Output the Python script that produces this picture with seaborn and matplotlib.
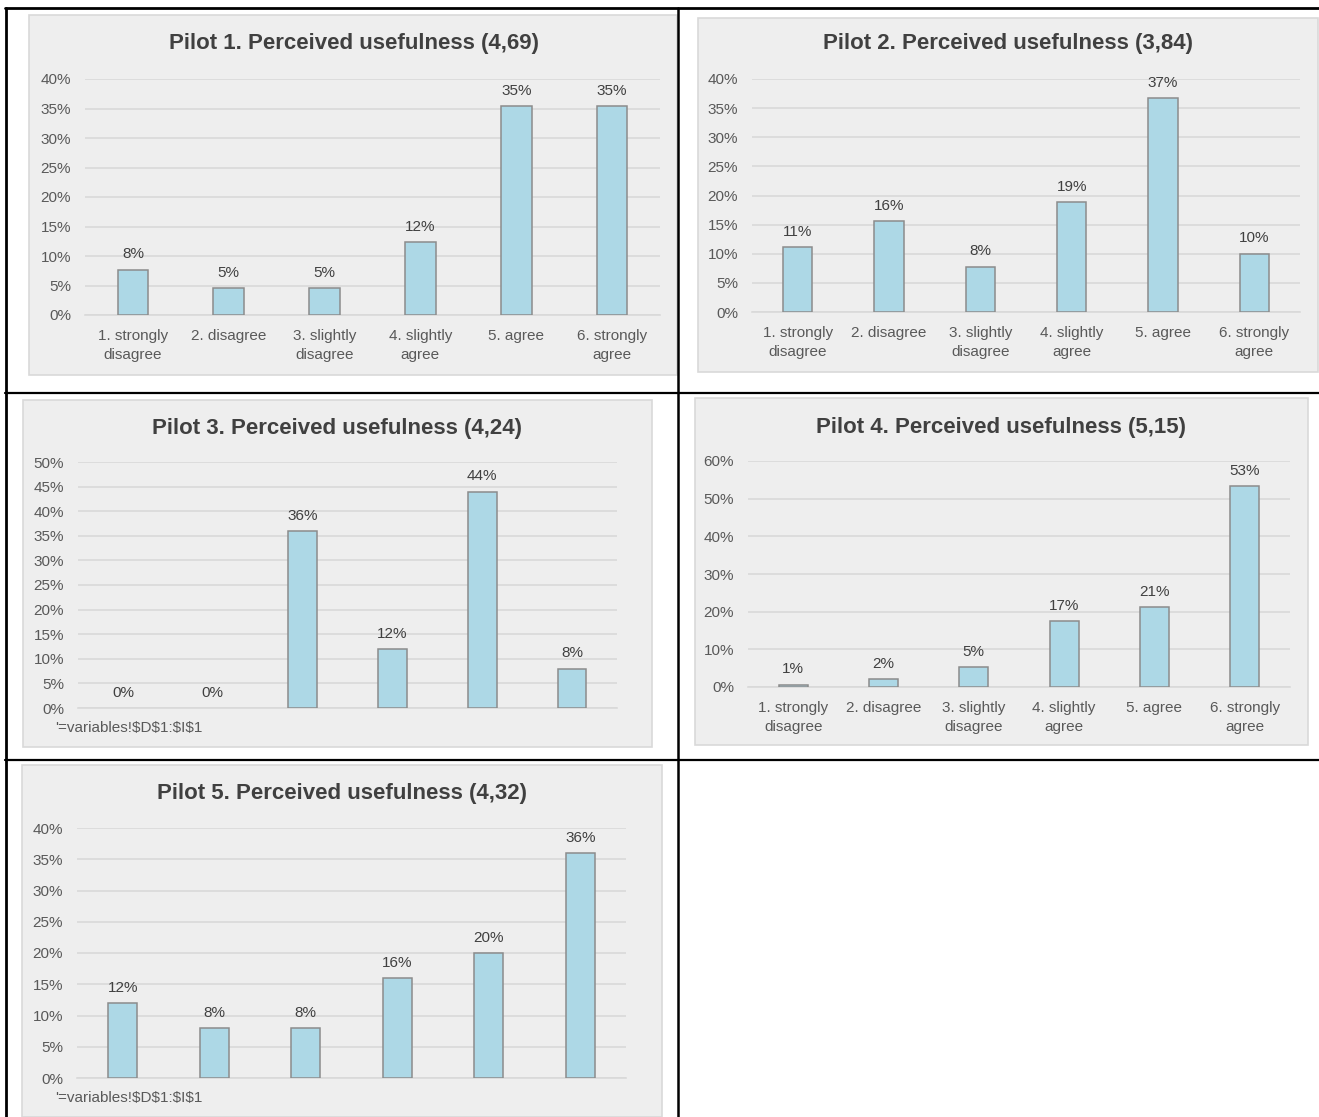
import matplotlib
matplotlib.use("Agg")
import matplotlib.pyplot as plt
from matplotlib.patches import Rectangle
from matplotlib.lines import Line2D
from matplotlib.ticker import FuncFormatter
import seaborn as sns
import pandas as pd

# Likert answer categories
categories = ["1. strongly\ndisagree", "2. disagree", "3. slightly\ndisagree",
              "4. slightly\nagree", "5. agree", "6. strongly\nagree"]

# Share of answers per category (%) for each pilot
pilot1 = [7.7, 4.6, 4.6, 12.3, 35.4, 35.4]
pilot2 = [11.1, 15.6, 7.8, 18.9, 36.7, 10.0]
pilot3 = [0.0, 0.0, 36.0, 12.0, 44.0, 8.0]
pilot4 = [0.6, 2.1, 5.3, 17.4, 21.2, 53.3]
pilot5 = [12.0, 8.0, 8.0, 16.0, 20.0, 36.0]

titles = ["Pilot 1. Perceived usefulness (4,69)",
          "Pilot 2. Perceived usefulness (3,84)",
          "Pilot 3. Perceived usefulness (4,24)",
          "Pilot 4. Perceived usefulness (5,15)",
          "Pilot 5. Perceived usefulness (4,32)"]

y_max = [40, 40, 50, 60, 40]
y_step = [5, 5, 5, 10, 5]
show_categories = [True, True, False, True, False]
footnote = r"'=variables!\$D\$1:\$I\$1"

sns.set_theme(style="white")
plt.rcParams["font.family"] = ["Liberation Sans Narrow", "Liberation Sans", "DejaVu Sans"]

W, H = 1319, 1117
fig = plt.figure(figsize=(W / 100, H / 100), dpi=100)
fig.patch.set_facecolor("white")


def fx(x):
    return x / W


def fy(y):
    return 1 - y / H


# table grid
def hline(y, x0, x1, lw=2.0):
    fig.add_artist(Line2D([fx(x0), fx(x1)], [fy(y), fy(y)], color="black", lw=lw))


def vline(x, y0, y1, lw=2.0):
    fig.add_artist(Line2D([fx(x), fx(x)], [fy(y0), fy(y1)], color="black", lw=lw))


hline(8, 5, 1319)
hline(393, 5, 1319, lw=1.6)
hline(760, 5, 1319, lw=1.6)
vline(6, 8, 1117)
vline(678, 8, 1117, lw=1.8)

# panel geometry in pixels: (box x0, y0, x1, y1), (axes left, right, top, bottom), title center
panels = [
    ((29, 15, 677, 375), (85, 660, 79, 315), (354, 43)),
    ((698, 18, 1318, 372), (752, 1300, 79, 312), (1008, 44)),
    ((23, 400, 652, 747), (78, 617, 462, 708), (337, 428)),
    ((695, 398, 1308, 745), (748, 1290, 461, 687), (1001, 427)),
    ((22, 765, 662, 1117), (77, 626, 828, 1078), (342, 793)),
]
data_sets = [pilot1, pilot2, pilot3, pilot4, pilot5]

tick_color = "#595959"
for k, ((bx0, by0, bx1, by1), (al, ar, at, ab), (tx, ty)) in enumerate(panels):
    fig.add_artist(Rectangle((fx(bx0), fy(by1)), fx(bx1 - bx0), (by1 - by0) / H,
                             facecolor="#eeeeee", edgecolor="#d9d9d9", lw=1.2, zorder=0))
    fig.text(fx(tx), fy(ty), titles[k], ha="center", va="center", fontsize=16,
             fontweight="bold", color="#404040")

    ax = fig.add_axes([fx(al), fy(ab), fx(ar - al), (ab - at) / H])
    ax.set_facecolor("none")
    df = pd.DataFrame({"category": categories, "share": data_sets[k]})
    sns.barplot(data=df, x="category", y="share", ax=ax, color="#add8e6",
                saturation=1, width=0.32, edgecolor="#8c8c8c", linewidth=1.1, zorder=3)
    for p in ax.patches:
        if p.get_height() == 0:
            p.set_linewidth(0)
    ax.set_xlim(-0.5, 5.5)
    ax.set_ylim(0, y_max[k])
    ax.set_yticks(range(0, y_max[k] + 1, y_step[k]))
    ax.yaxis.set_major_formatter(FuncFormatter(lambda v, p: f"{v:.0f}%"))
    ax.grid(axis="y", color="#d9d9d9", lw=1.2, zorder=0)
    ax.set_axisbelow(True)
    for s in ["top", "right", "left"]:
        ax.spines[s].set_visible(False)
    ax.spines["bottom"].set_color("#d9d9d9")
    ax.spines["bottom"].set_linewidth(1.2)
    ax.set_xlabel("")
    ax.set_ylabel("")
    ax.tick_params(axis="y", length=0, pad=10, labelsize=11, labelcolor=tick_color)
    ax.tick_params(axis="x", length=0, pad=10, labelsize=11, labelcolor=tick_color)
    for lbl in ax.get_xticklabels():
        lbl.set_linespacing(1.45)
    if not show_categories[k]:
        ax.set_xticklabels([])
        ax.text((55 - al) / (ar - al), -20 / (ab - at), footnote, transform=ax.transAxes,
                ha="left", va="center", fontsize=11, color=tick_color)
    for c in ax.containers:
        ax.bar_label(c, labels=[f"{v:.0f}%" for v in c.datavalues], padding=6,
                     fontsize=11, color="#404040")

fig.savefig("out.png", dpi=100)
